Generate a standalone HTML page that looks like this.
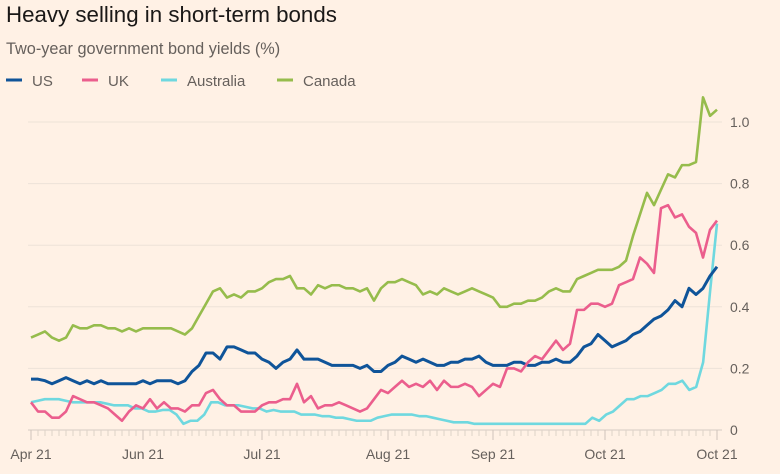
<!DOCTYPE html>
<html><head><meta charset="utf-8"><style>
body{margin:0;background:#FFF1E5;font-family:"Liberation Sans",sans-serif;}
#wrap{position:relative;width:780px;height:474px;overflow:hidden;background:#FFF1E5}
</style></head><body>
<div id="wrap">
<svg id="svg" width="780" height="474">
<text x="6" y="22" font-size="22.3" fill="#1a1817">Heavy selling in short-term bonds</text>
<text x="6" y="54" font-size="16.3" fill="#66605C">Two-year government bond yields (%)</text>
<g id="legend"></g>
<g id="grid"></g>
<g id="axes"></g>
<g id="lines"></g>
</svg></div>
<script>
const seriesNames=["US","UK","Australia","Canada"];
const yTicks=[0,0.2,0.4,0.6,0.8,1.0];
const yTickLabels=["0","0.2","0.4","0.6","0.8","1.0"];
const xTickLabels=["Apr 21","Jun 21","Jul 21","Aug 21","Sep 21","Oct 21","Oct 21"];
const xTickIdx=[0,16,33,51,66,82,98];
const us=[.165,.165,.16,.15,.16,.17,.16,.15,.16,.15,.16,.15,.15,.15,.15,.15,.16,.15,.16,.16,.16,.15,.16,.19,.21,.25,.25,.23,.27,.27,.26,.25,.25,.23,.22,.20,.22,.23,.26,.23,.23,.23,.22,.21,.21,.21,.21,.20,.21,.19,.19,.21,.22,.24,.23,.22,.23,.22,.21,.21,.22,.22,.23,.23,.24,.22,.21,.21,.21,.22,.22,.21,.21,.22,.22,.23,.22,.22,.24,.27,.28,.31,.29,.27,.28,.29,.31,.32,.34,.36,.37,.39,.42,.40,.46,.44,.46,.50,.53];
const uk=[.09,.06,.06,.04,.04,.06,.11,.10,.09,.09,.08,.07,.05,.03,.06,.08,.07,.10,.07,.09,.07,.07,.06,.08,.08,.12,.13,.10,.08,.08,.06,.06,.06,.08,.09,.09,.10,.10,.15,.09,.11,.07,.08,.08,.09,.08,.07,.06,.07,.10,.13,.12,.14,.16,.14,.15,.14,.16,.13,.16,.14,.14,.15,.14,.11,.13,.15,.14,.20,.20,.19,.22,.24,.23,.26,.29,.26,.28,.39,.39,.41,.41,.40,.41,.47,.48,.49,.56,.54,.51,.72,.73,.69,.70,.66,.64,.56,.65,.68];
const aus=[.09,.095,.10,.10,.10,.095,.09,.09,.09,.09,.09,.085,.08,.08,.08,.07,.07,.06,.06,.065,.065,.05,.02,.03,.03,.05,.09,.09,.08,.08,.08,.075,.07,.07,.06,.065,.06,.06,.06,.05,.05,.05,.045,.045,.04,.04,.035,.03,.03,.03,.04,.045,.05,.05,.05,.05,.045,.045,.04,.035,.03,.025,.025,.025,.02,.02,.02,.02,.02,.02,.02,.02,.02,.02,.02,.02,.02,.02,.02,.02,.02,.04,.03,.05,.06,.08,.10,.10,.11,.11,.12,.13,.15,.15,.16,.13,.14,.22,.45,.67];
const can=[.30,.31,.32,.30,.29,.30,.34,.33,.33,.34,.34,.33,.33,.32,.33,.32,.33,.33,.33,.33,.33,.32,.31,.33,.37,.41,.45,.46,.43,.44,.43,.45,.45,.46,.48,.49,.49,.50,.46,.46,.44,.47,.46,.47,.47,.46,.46,.45,.46,.42,.46,.48,.48,.49,.48,.47,.44,.45,.44,.46,.45,.44,.45,.46,.45,.44,.43,.40,.40,.41,.41,.42,.42,.43,.45,.46,.45,.45,.49,.50,.51,.52,.52,.52,.53,.55,.63,.70,.77,.73,.78,.83,.82,.86,.86,.87,1.08,1.02,1.04];
const colors=["#0F5499","#EB5E8D","#6FD8DF","#96BC4C"];
const data=[us,uk,aus,can];
const NS="http://www.w3.org/2000/svg";
const X0=31,X1=717,Y0=430,Y1=122;
function xs(i,n){return X0+(X1-X0)*i/(n-1);}
function ys(v){return Y0-(Y0-Y1)*v/1.0;}
function mk(t,a,p){const e=document.createElementNS(NS,t);for(const k in a)e.setAttribute(k,a[k]);p.appendChild(e);return e;}
const grid=document.getElementById('grid'),axes=document.getElementById('axes'),lines=document.getElementById('lines'),legend=document.getElementById('legend');
yTicks.forEach((v,i)=>{
  if(v>0){const g=mk('line',{x1:28,x2:722,y1:ys(v),y2:ys(v),stroke:'#EDE2D8','stroke-width':1},grid);
  
  }
  const t=mk('text',{x:730,y:ys(v)+5,'font-size':14,fill:'#66605C'},axes);t.textContent=yTickLabels[i];
  
  
});
const base=mk('line',{x1:28,x2:722,y1:Y0,y2:Y0,stroke:'#D6CCC3','stroke-width':1},axes);


for(let i=0;i<99;i++){const tk=mk('line',{x1:xs(i,99),x2:xs(i,99),y1:Y0,y2:Y0+6,stroke:'#DDD2C8','stroke-width':1},axes);
  
  }
xTickIdx.forEach((ix,i)=>{const x=xs(ix,99);
  const tk=mk('line',{x1:x,x2:x,y1:Y0,y2:Y0+10,stroke:'#CFC4BA','stroke-width':1},axes);
  
  
  const t=mk('text',{x:x,y:459,'font-size':14,fill:'#66605C','text-anchor':'middle'},axes);t.textContent=xTickLabels[i];
  
  
});
[2,0,1,3].forEach(s=>{const d=data[s];
  const p=mk('polyline',{points:d.map((v,i)=>xs(i,d.length)+','+ys(v)).join(' '),fill:'none',stroke:colors[s],'stroke-width':s==0?3:2.6,'stroke-linejoin':'round'},lines);
  
  
});
const lx=[6,82,161,277];
seriesNames.forEach((n,i)=>{
  const g=mk('g',{},legend);
  
  
  mk('line',{x1:lx[i],x2:lx[i]+16,y1:80,y2:80,stroke:colors[i],'stroke-width':3},g);
  const t=mk('text',{x:lx[i]+26,y:86,'font-size':15,fill:'#66605C'},g);t.textContent=n;
});
</script></body></html>
